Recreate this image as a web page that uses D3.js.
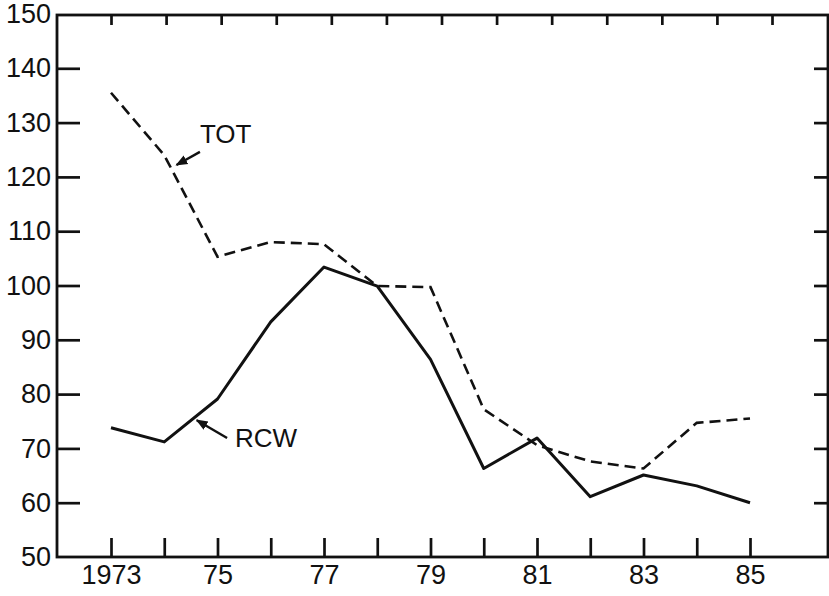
<!DOCTYPE html>
<html>
<head>
<meta charset="utf-8">
<script src="https://cdn.jsdelivr.net/npm/d3@7"></script>
<style>
  body { margin: 0; background: #fff; }
  svg text { font-family: "Liberation Sans", Arial, sans-serif; fill: #111; }
  .axis path, .axis line { stroke: #111; stroke-width: 2.7; }
  .axis text { font-size: 27px; }
</style>
</head>
<body>
<svg id="chart" width="829" height="596"></svg>
<script>
// years along the bottom
var years = [1973, 1974, 1975, 1976, 1977, 1978, 1979, 1980, 1981, 1982, 1983, 1984, 1985];
var rcw = [73.8, 71.2, 79.1, 93.3, 103.4, 99.9, 86.4, 66.3, 71.9, 61.1, 65.1, 63.1, 60.0];
var tot = [135.5, 124.0, 105.3, 108.0, 107.6, 99.9, 99.7, 77.2, 70.6, 67.6, 66.3, 74.7, 75.5];
var xLabels = {1973: "1973", 1975: "75", 1977: "77", 1979: "79", 1981: "81", 1983: "83", 1985: "85"};
var yTicks = [50, 60, 70, 80, 90, 100, 110, 120, 130, 140, 150];

var svg = d3.select("#chart"),
    frame = {left: 57, top: 15, right: 828, bottom: 557};

var x = d3.scaleLinear()
    .domain([1973, 1985])
    .range([111, 750]);

// the top ticks in the original are spaced a bit wider
var xTop = d3.scaleLinear()
    .domain([1973, 1985])
    .range([111, 772]);

var y = d3.scaleLinear()
    .domain([50, 150])
    .range([frame.bottom, frame.top - 1]);

// frame
svg.append("rect")
    .attr("x", frame.left)
    .attr("y", frame.top)
    .attr("width", frame.right - frame.left)
    .attr("height", frame.bottom - frame.top)
    .attr("fill", "none")
    .attr("stroke", "#111")
    .attr("stroke-width", 2.8);

svg.append("g")
    .attr("class", "axis")
    .attr("transform", "translate(0," + frame.bottom + ")")
    .call(d3.axisBottom(x).tickValues(years).tickSize(-19).tickPadding(8)
      .tickFormat(function (d) { return xLabels[d] || ""; }))
    .call(function (g) { g.select(".domain").remove(); });

svg.append("g")
    .attr("class", "axis")
    .attr("transform", "translate(0," + frame.top + ")")
    .call(d3.axisTop(xTop).tickValues(years).tickSize(-10).tickFormat(""))
    .call(function (g) { g.select(".domain").remove(); });

svg.append("g")
    .attr("class", "axis")
    .attr("transform", "translate(" + frame.left + ",0)")
    .call(d3.axisLeft(y).tickValues(yTicks).tickSize(-23).tickPadding(6))
    .call(function (g) {
      g.select(".domain").remove();
      g.selectAll(".tick").filter(function (d) { return d === 50 || d === 150; }).select("line").remove();
    });

svg.append("g")
    .attr("class", "axis")
    .attr("transform", "translate(" + frame.right + ",0)")
    .call(d3.axisRight(y).tickValues(yTicks.slice(1, -1)).tickSize(-14).tickFormat(""))
    .call(function (g) { g.select(".domain").remove(); });

var line = d3.line()
    .x(function (d, i) { return x(years[i]); })
    .y(function (d) { return y(d); });

svg.append("path")
    .datum(tot)
    .attr("d", line)
    .attr("fill", "none")
    .attr("stroke", "#111")
    .attr("stroke-width", 2.6)
    .attr("stroke-dasharray", "11,6");

svg.append("path")
    .datum(rcw)
    .attr("d", line)
    .attr("fill", "none")
    .attr("stroke", "#111")
    .attr("stroke-width", 3)
    .attr("stroke-linejoin", "round");

// arrow labels
svg.append("defs").append("marker")
    .attr("id", "arrow")
    .attr("viewBox", "0 0 10 10")
    .attr("refX", 9)
    .attr("refY", 5)
    .attr("markerWidth", 5)
    .attr("markerHeight", 5)
    .attr("orient", "auto")
    .attr("markerUnits", "strokeWidth")
  .append("path")
    .attr("d", "M0,1L10,5L0,9Z")
    .attr("fill", "#111");

var notes = [
  {text: "TOT", from: [1974.67, 124.6], to: [1974.23, 122.2], at: [1974.67, 126.2]},
  {text: "RCW", from: [1975.18, 71.9], to: [1974.61, 75.2], at: [1975.33, 70.3]}
];

notes.forEach(function (n) {
  svg.append("line")
      .attr("x1", x(n.from[0])).attr("y1", y(n.from[1]))
      .attr("x2", x(n.to[0])).attr("y2", y(n.to[1]))
      .attr("stroke", "#111")
      .attr("stroke-width", 2.4)
      .attr("marker-end", "url(#arrow)");
  svg.append("text")
      .attr("x", x(n.at[0]))
      .attr("y", y(n.at[1]))
      .attr("font-size", 26)
      .text(n.text);
});
</script>
</body>
</html>
